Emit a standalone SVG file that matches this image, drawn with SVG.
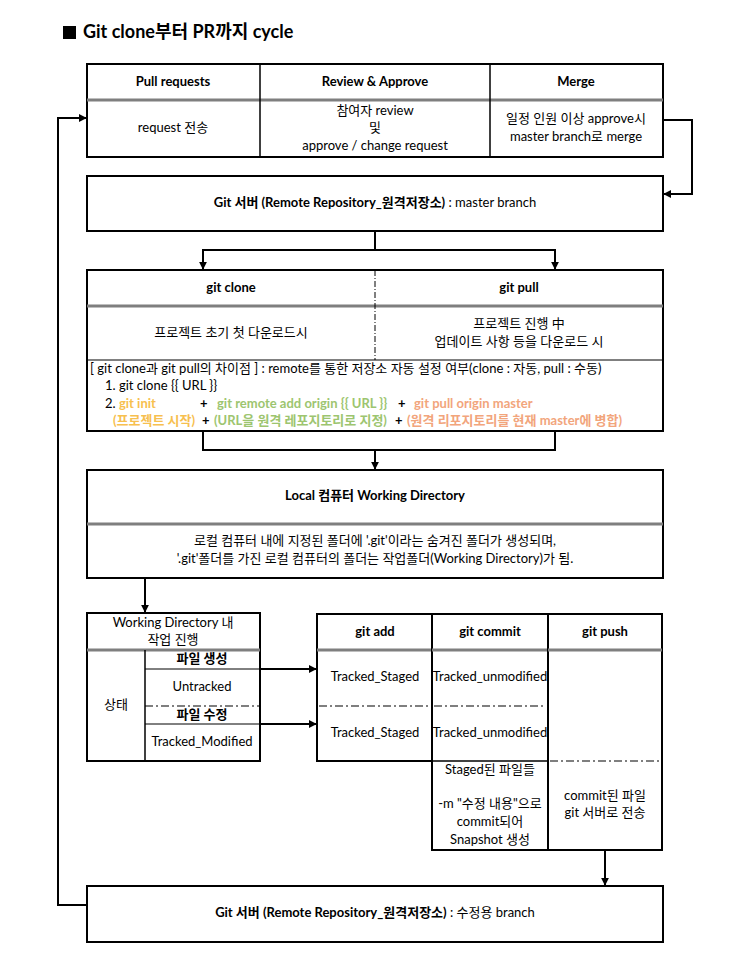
<svg xmlns="http://www.w3.org/2000/svg" width="750" height="961" viewBox="0 0 750 961">
<defs>
<style>
.box{fill:#fff;stroke:#000;stroke-width:2}
.ln{fill:none;stroke:#000;stroke-width:1.5}
.thin{fill:none;stroke:#000;stroke-width:1}
.sep{fill:none;stroke:#7f7f7f;stroke-width:3}
.dd{fill:none;stroke:#000;stroke-width:1.2;stroke-dasharray:8 3 2 3}
.con{fill:none;stroke:#000;stroke-width:2}
text{font-family:"Lato","Noto Sans CJK KR",sans-serif;font-size:13px;fill:#000}
.c{text-anchor:middle}
.b{font-weight:bold}
.y{fill:#f7c04f;font-weight:bold}
.g{fill:#9dc56f;font-weight:bold}
.o{fill:#f2a57c;font-weight:bold}
</style>
<marker id="ar" viewBox="0 0 10 10" refX="9" refY="5" markerWidth="4" markerHeight="4" orient="auto" markerUnits="strokeWidth">
<path d="M0,0 L10,5 L0,10 z" fill="#000"/>
</marker>
</defs>
<rect width="750" height="961" fill="#fff"/>

<g id="title">
<rect x="63" y="26" width="13" height="13" fill="#000"/>
<text x="83" y="38" style="font-size:18px;font-weight:bold">Git clone부터 PR까지 cycle</text>
</g>

<g id="pr-table">
<rect class="box" x="87" y="64" width="576" height="93"/>
<line class="sep" x1="87" y1="100" x2="663" y2="100"/>
<line class="ln" x1="260" y1="64" x2="260" y2="157"/>
<line class="ln" x1="490" y1="64" x2="490" y2="157"/>
<text class="c b" x="173" y="86">Pull requests</text>
<text class="c b" x="375" y="86">Review &amp; Approve</text>
<text class="c b" x="576" y="86">Merge</text>
<text class="c" x="173" y="132">request 전송</text>
<text class="c" x="375" y="115">참여자 review</text>
<text class="c" x="375" y="132">및</text>
<text class="c" x="375" y="150">approve / change request</text>
<text class="c" x="576" y="123">일정 인원 이상 approve시</text>
<text class="c" x="576" y="141">master branch로 merge</text>
</g>

<g id="git-server-master">
<rect class="box" x="87" y="176" width="576" height="55"/>
<text class="c" x="375" y="207"><tspan class="b">Git 서버 (Remote Repository_원격저장소)</tspan>  : master branch</text>
</g>

<g id="clone-pull">
<rect class="box" x="87" y="270" width="576" height="161"/>
<line class="sep" x1="87" y1="306" x2="663" y2="306"/>
<line class="thin" x1="375" y1="270" x2="375" y2="360" stroke-dasharray="6 2 1 2"/>
<line class="thin" x1="87" y1="360" x2="663" y2="360"/>
<text class="c b" x="231" y="292">git clone</text>
<text class="c b" x="519" y="292">git pull</text>
<text class="c" x="231" y="337">프로젝트 초기 첫 다운로드시</text>
<text class="c" x="519" y="328">프로젝트 진행 中</text>
<text class="c" x="519" y="346">업데이트 사항 등을 다운로드 시</text>
<text x="90" y="373">[ git clone과 git pull의 차이점 ] : remote를 통한 저장소 자동 설정 여부(clone : 자동, pull : 수동)</text>
<text x="105" y="390">1. git clone {{ URL }}</text>
<text x="105" y="408">2. <tspan class="y">git init</tspan></text>
<text class="b" x="200" y="408">+</text>
<text class="g" x="217" y="408">git remote add origin {{ URL }}</text>
<text class="b" x="398" y="408">+</text>
<text class="o" x="414" y="408">git pull origin master</text>
<text class="y" x="113" y="425">(프로젝트 시작)</text>
<text class="b" x="202" y="425">+</text>
<text class="g" x="214" y="425">(URL을 원격 레포지토리로 지정)</text>
<text class="b" x="395" y="425">+</text>
<text class="o" x="407" y="425">(원격 리포지토리를 현재 master에 병합)</text>
</g>

<g id="local">
<rect class="box" x="87" y="470" width="576" height="108"/>
<line class="sep" x1="87" y1="524" x2="663" y2="524"/>
<text class="c b" x="375" y="500">Local 컴퓨터 Working Directory</text>
<text class="c" x="375" y="545">로컬 컴퓨터 내에 지정된 폴더에 '.git'이라는 숨겨진 폴더가 생성되며,</text>
<text class="c" x="375" y="563">'.git'폴더를 가진 로컬 컴퓨터의 폴더는 작업폴더(Working Directory)가 됨.</text>
</g>

<g id="working-dir">
<rect class="box" x="87" y="613" width="173" height="148"/>
<line class="sep" x1="87" y1="650" x2="260" y2="650"/>
<line class="ln" x1="145" y1="650" x2="145" y2="761"/>
<line class="thin" x1="145" y1="669" x2="260" y2="669"/>
<line class="dd" x1="145" y1="706" x2="260" y2="706"/>
<line class="thin" x1="145" y1="724" x2="260" y2="724"/>
<text class="c" x="173" y="627">Working Directory 내</text>
<text class="c" x="173" y="644">작업 진행</text>
<text class="c" x="116" y="709">상태</text>
<text class="c b" x="202" y="663">파일 생성</text>
<text class="c" x="202" y="691">Untracked</text>
<text class="c b" x="202" y="719">파일 수정</text>
<text class="c" x="202" y="746">Tracked_Modified</text>
</g>

<g id="git-add">
<rect class="box" x="317" y="614" width="115" height="147"/>
<line class="sep" x1="317" y1="650" x2="432" y2="650"/>
<line class="dd" x1="319" y1="706" x2="432" y2="706"/>
<text class="c b" x="375" y="636">git add</text>
<text class="c" x="375" y="681">Tracked_Staged</text>
<text class="c" x="375" y="737">Tracked_Staged</text>
</g>

<g id="git-commit">
<rect class="box" x="432" y="614" width="116" height="236"/>
<line class="sep" x1="432" y1="650" x2="548" y2="650"/>
<line class="dd" x1="434" y1="706" x2="546" y2="706"/>
<line class="ln" x1="432" y1="761" x2="548" y2="761"/>
<text class="c b" x="490" y="636">git commit</text>
<text class="c" x="490" y="681">Tracked_unmodified</text>
<text class="c" x="490" y="737">Tracked_unmodified</text>
<text class="c" x="490" y="774">Staged된 파일들</text>
<text class="c" x="490" y="808">-m "수정 내용"으로</text>
<text class="c" x="490" y="826">commit되어</text>
<text class="c" x="490" y="844">Snapshot 생성</text>
</g>

<g id="git-push">
<rect class="box" x="548" y="614" width="114" height="236"/>
<line class="sep" x1="548" y1="650" x2="662" y2="650"/>
<line class="dd" x1="550" y1="761" x2="660" y2="761" stroke="#555"/>
<text class="c b" x="605" y="636">git push</text>
<text class="c" x="605" y="800">commit된 파일</text>
<text class="c" x="605" y="817">git 서버로 전송</text>
</g>

<g id="git-server-branch">
<rect class="box" x="87" y="886" width="576" height="56"/>
<text class="c" x="375" y="917"><tspan class="b">Git 서버 (Remote Repository_원격저장소)</tspan> : 수정용 branch</text>
</g>

<g id="connectors">
<polyline class="con" points="87,905 58,905 58,118 86,118" marker-end="url(#ar)"/>
<polyline class="con" points="663,120 692,120 692,194 664,194" marker-end="url(#ar)"/>
<line class="con" x1="375" y1="231" x2="375" y2="250"/>
<line class="con" x1="202" y1="250" x2="556" y2="250"/>
<line class="con" x1="203" y1="250" x2="203" y2="269" marker-end="url(#ar)"/>
<line class="con" x1="555" y1="250" x2="555" y2="269" marker-end="url(#ar)"/>
<line class="con" x1="203" y1="431" x2="203" y2="451"/>
<line class="con" x1="555" y1="431" x2="555" y2="451"/>
<line class="con" x1="202" y1="450" x2="556" y2="450"/>
<line class="con" x1="375" y1="450" x2="375" y2="469" marker-end="url(#ar)"/>
<line class="con" x1="145" y1="578" x2="145" y2="612" marker-end="url(#ar)"/>
<line class="con" x1="260" y1="669" x2="316" y2="669" marker-end="url(#ar)"/>
<line class="con" x1="260" y1="724" x2="316" y2="724" marker-end="url(#ar)"/>
<line class="con" x1="605" y1="850" x2="605" y2="885" marker-end="url(#ar)"/>
</g>
</svg>
